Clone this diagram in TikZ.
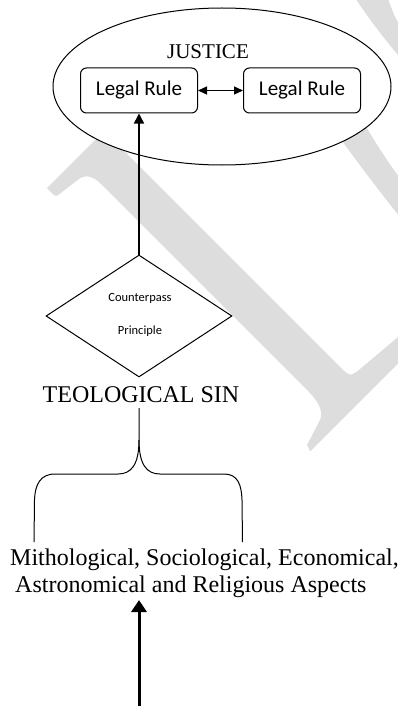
\documentclass[tikz,border=0pt]{standalone}
\usepackage{fontspec}
\setmainfont{Liberation Serif}
\newfontfamily\calibri{Carlito}
\usetikzlibrary{shapes.geometric,arrows.meta}
\definecolor{wm}{RGB}{221,221,221}
\begin{document}
\begin{tikzpicture}[x=1pt,y=-1pt,
  thin line/.style={line width=1pt},
  rbox/.style={draw, line width=1pt, rounded corners=6pt, minimum width=117pt, minimum height=45pt,
    inner sep=0pt, fill=white, font=\calibri\fontsize{21}{25}\selectfont},
  arr/.style={line width=1.5pt, -{Triangle[length=10pt,width=10pt]}},
  darr/.style={line width=1.3pt, {Triangle[length=9pt,width=8pt]}-{Triangle[length=9pt,width=8pt]}},
  bigarr/.style={line width=3pt, -{Triangle[length=12pt,width=15pt]}},
  tnr/.style={font=\fontsize{24}{28}\selectfont, inner sep=0pt},
  small/.style={font=\calibri\fontsize{12.5}{15}\selectfont, inner sep=0pt}]
\useasboundingbox (0,0) rectangle (398,706);
% watermark
\begin{scope}
\clip (0,0) rectangle (398,706);
\fill[wm] (47,188) -- (104,131) -- (336.5,363.5) .. controls (350,377) .. (359.5,369.5)
  -- (398,337) -- (445,295) -- (455.75,305.75) -- (310.25,451.25) -- (307,445) -- (320,420)
  .. controls (324.5,410.5) and (316,399) .. (308.5,391.5) -- (101,184)
  .. controls (93.5,176.5) and (86,174) .. (79,179) -- (57.5,195.5) -- (54.5,195.5) -- cycle;
\fill[wm] (354,-4) -- (387,-4) .. controls (392,10) and (396,22) .. (404,30) -- (404,62)
  .. controls (385,40) and (368,18) .. (354,-4) -- cycle;
\fill[wm] (328,122) .. controls (340,138) and (370,180) .. (404,222) -- (404,183)
  .. controls (385,160) and (365,125) .. (355,108) -- cycle;
\end{scope}
% justice
\node[draw, ellipse, line width=1pt, fill=white, minimum width=338pt, minimum height=157pt, inner sep=0pt] (just) at (222,86.5) {};
\node[font=\fontsize{21}{25}\selectfont, inner sep=0pt, anchor=base] (jlab) at (208,59) {JUSTICE};
\node[rbox] (lr1) at (139,90.5) {Legal Rule};
\node[rbox] (lr2) at (302,90.5) {Legal Rule};
\draw[darr] (lr1) -- (lr2);
% diamond
\node[diamond, draw, line width=1pt, fill=white, minimum width=186pt, minimum height=122pt, inner sep=0pt] (cp) at (139,316) {};
\node[small, anchor=base] (cpt1) at (140,301) {Counterpass};
\node[small, anchor=base] (cpt2) at (140,334) {Principle};
\draw[arr] (cp.north) -- (lr1.south);
% sin
\node[tnr, anchor=base] (sin) at (141,402) {TEOLOGICAL SIN};
\coordinate (bt) at (139,408);
\coordinate (lend) at (34,542);
\coordinate (rend) at (242.5,542);
\draw[thin line] (bt) -- (139,440) .. controls (139,465) and (131,474) .. (118,474) -- (55,474)
  .. controls (40,474) and (35,485) .. (34.5,500) -- (lend);
\draw[thin line] (139,440) .. controls (139,465) and (147,474) .. (160,474) -- (224,474)
  .. controls (238,474) and (241.5,485) .. (242,500) -- (rend);
% aspects
\node[tnr, anchor=base west] (asp1) at (10,565) {Mithological, Sociological, Economical,};
\node[tnr, anchor=base west] (asp2) at (15,592) {Astronomical and Religious Aspects};
\coordinate (src) at (139,706);
\coordinate (tip) at (139,600);
\draw[bigarr] (src) -- (tip);
\end{tikzpicture}
\end{document}
